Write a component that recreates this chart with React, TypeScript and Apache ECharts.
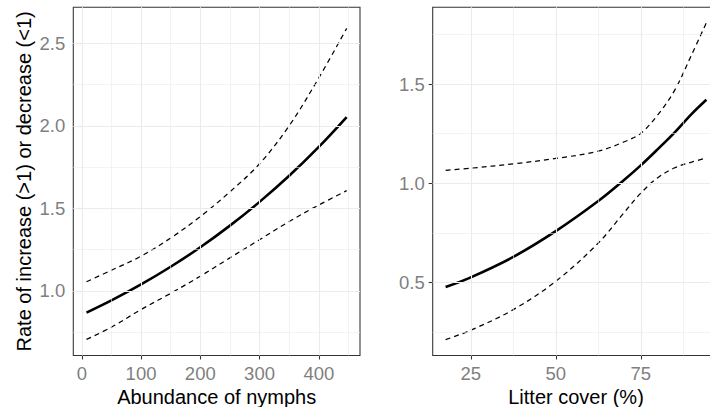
import React, { useEffect, useRef } from "react";
import * as echarts from "echarts";

// ---- Left panel: Abundance of nymphs ----
const nymphX = [8, 50, 100, 150, 200, 250, 300, 350, 400, 447];
const nymphFit = [0.868, 0.942, 1.039, 1.146, 1.264, 1.395, 1.539, 1.697, 1.872, 2.053];
const nymphUpper = [1.055, 1.125, 1.21, 1.32, 1.45, 1.6, 1.77, 2.0, 2.29, 2.59];
const nymphLower = [0.706, 0.78, 0.887, 0.985, 1.089, 1.2, 1.31, 1.42, 1.52, 1.607];

// ---- Right panel: Litter cover (%) ----
const litterX = [17.6, 25, 37.5, 50, 62.5, 70, 75, 80, 85, 90, 94.3];
const litterFit = [0.476, 0.525, 0.628, 0.758, 0.91, 1.015, 1.09, 1.172, 1.257, 1.35, 1.421];
const litterUpper = [1.065, 1.076, 1.098, 1.125, 1.162, 1.208, 1.252, 1.345, 1.47, 1.65, 1.81];
const litterLower = [0.211, 0.258, 0.362, 0.505, 0.698, 0.85, 0.95, 1.028, 1.078, 1.107, 1.127];

// ---- Ticks ----
const nymphXTicks = [0, 100, 200, 300, 400];
const nymphXMinor = [50, 150, 250, 350, 450];
const nymphYTicks = [1.0, 1.5, 2.0, 2.5];
const nymphYMinor = [0.75, 1.25, 1.75, 2.25];
const litterXTicks = [25, 50, 75];
const litterXMinor = [37.5, 62.5, 87.5];
const litterYTicks = [0.5, 1.0, 1.5];
const litterYMinor = [0.25, 0.75, 1.25, 1.75];

const FONT = "'Liberation Sans', Arial, sans-serif";
const TICK_COLOR = "#7F7F7F";
const GRID_COLOR = "#EBEBEB";

function pairs(xs: number[], ys: number[]) {
  return xs.map((x, i) => [x, ys[i]]);
}

function axis(
  gridIndex: number,
  min: number,
  max: number,
  ticks: number[],
  isY: boolean,
  name: string,
  nameGap: number
): any {
  return {
    type: "value",
    gridIndex,
    min,
    max,
    name,
    nameLocation: "middle",
    nameGap,
    nameRotate: isY ? 90 : 0,
    nameTextStyle: { fontSize: 20, color: "#000", fontFamily: FONT },
    axisLine: { show: false },
    axisTick: {
      show: true,
      length: 4,
      customValues: ticks,
      lineStyle: { color: "#333", width: 1.07 },
    },
    axisLabel: {
      show: true,
      customValues: ticks,
      margin: 8,
      fontSize: 18.5,
      color: TICK_COLOR,
      fontFamily: FONT,
      formatter: (v: number) => (isY ? v.toFixed(1) : String(v)),
    },
    splitLine: { show: false },
    minorSplitLine: { show: false },
  };
}

function gridSeries(
  idx: number,
  xs: number[],
  ys: number[],
  xMajor: number[],
  xMinor: number[],
  yMajor: number[],
  yMinor: number[]
): any {
  const major = { color: GRID_COLOR, width: 1.1, type: "solid" };
  const minor = { color: GRID_COLOR, width: 0.6, type: "solid" };
  return {
    type: "line",
    xAxisIndex: idx,
    yAxisIndex: idx,
    data: pairs(xs, ys),
    showSymbol: false,
    lineStyle: { opacity: 0 },
    silent: true,
    z: 1,
    markLine: {
      silent: true,
      symbol: ["none", "none"],
      label: { show: false },
      emphasis: { disabled: true },
      data: [
        ...xMinor.map((v) => ({ xAxis: v, lineStyle: minor })),
        ...yMinor.map((v) => ({ yAxis: v, lineStyle: minor })),
        ...xMajor.map((v) => ({ xAxis: v, lineStyle: major })),
        ...yMajor.map((v) => ({ yAxis: v, lineStyle: major })),
      ],
    },
  };
}

function curve(idx: number, xs: number[], ys: number[], dashed: boolean): any {
  return {
    type: "line",
    xAxisIndex: idx,
    yAxisIndex: idx,
    data: pairs(xs, ys),
    showSymbol: false,
    smooth: 0.35,
    silent: true,
    z: 3,
    lineStyle: dashed
      ? { color: "#000", width: 1.25, type: [5, 4] }
      : { color: "#000", width: 2.6, type: "solid" },
  };
}

export default function App() {
  const ref = useRef<HTMLDivElement>(null);
  useEffect(() => {
    if (!ref.current) return;
    const chart = echarts.init(ref.current, undefined, { renderer: "svg" });
    const gridTop = 7.3;
    const gridH = 348.2;
    chart.setOption({
      animation: false,
      backgroundColor: "#fff",
      textStyle: { fontFamily: FONT },
      grid: [
        {
          left: 73.3,
          top: gridTop,
          width: 286.7,
          height: gridH,
          show: true,
          borderColor: "#333",
          borderWidth: 1.07,
          backgroundColor: "transparent",
          containLabel: false,
          outerBoundsMode: "none",
        },
        {
          left: 432.7,
          top: gridTop,
          width: 286.6,
          height: gridH,
          show: true,
          borderColor: "#333",
          borderWidth: 1.07,
          backgroundColor: "transparent",
          containLabel: false,
          outerBoundsMode: "none",
        },
      ],
      xAxis: [
        axis(0, -14.3, 469.5, nymphXTicks, false, "Abundance of nymphs", 23.5),
        axis(1, 13.8, 98.1, litterXTicks, false, "Litter cover (%)", 23.5),
      ],
      yAxis: [
        axis(0, 0.6085, 2.7176, nymphYTicks, true, "Rate of increase (>1) or decrease (<1)", 39),
        axis(1, 0.1305, 1.888, litterYTicks, true, "", 40),
      ],
      series: [
        gridSeries(0, nymphX, nymphFit, nymphXTicks, nymphXMinor, nymphYTicks, nymphYMinor),
        gridSeries(1, litterX, litterFit, litterXTicks, litterXMinor, litterYTicks, litterYMinor),
        curve(0, nymphX, nymphUpper, true),
        curve(0, nymphX, nymphLower, true),
        curve(0, nymphX, nymphFit, false),
        curve(1, litterX, litterUpper, true),
        curve(1, litterX, litterLower, true),
        curve(1, litterX, litterFit, false),
      ],
    });
    return () => chart.dispose();
  }, []);
  return (
    <div
      style={{
        position: "absolute",
        left: 0,
        top: 0,
        width: 710,
        height: 407,
        overflow: "hidden",
        background: "#fff",
      }}
    >
      <div ref={ref} style={{ width: 740, height: 407 }} />
    </div>
  );
}
